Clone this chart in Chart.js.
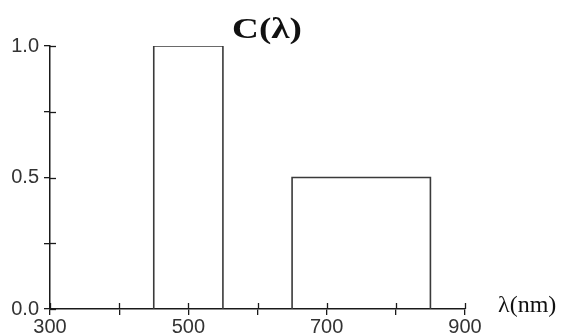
<!DOCTYPE html>
<html>
<head>
<meta charset="utf-8">
<script src="https://cdn.jsdelivr.net/npm/chart.js@4"></script>
<style>
html,body{margin:0;padding:0;background:#fff;}
#wrap{width:564px;height:335px;position:relative;}
</style>
</head>
<body>
<div id="wrap"><canvas id="c" width="564" height="335"></canvas></div>
<script>
// Data
const barStarts = [450, 650];
const barEnds = [550, 850];
const barHeights = [1.0, 0.5];
const xLabeled = [300, 500, 700, 900];
const yLabeled = [0, 0.5, 1.0];
const titleText = 'C(λ)';
const xAxisTitle = 'λ(nm)';

const datasets = barStarts.map((s, i) => ({
  data: [
    {x: s, y: 0},
    {x: s, y: barHeights[i]},
    {x: barEnds[i], y: barHeights[i]},
    {x: barEnds[i], y: 0}
  ],
  borderColor: '#3a3a3a',
  borderWidth: 1.6,
  pointRadius: 0,
  fill: false,
  tension: 0
}));

const AXIS = '#1a1a1a';
const tickFont = {family: 'Liberation Sans, Arial, sans-serif', size: 20};

const decor = {
  id: 'decor',
  afterDraw(chart) {
    const ctx = chart.ctx;
    const xs = chart.scales.x, ys = chart.scales.y;
    ctx.save();
    ctx.strokeStyle = AXIS;
    ctx.lineWidth = 1.3;
    // inner halves of cross ticks
    xs.ticks.forEach(t => {
      const px = Math.round(xs.getPixelForValue(t.value)) + 0.5;
      ctx.beginPath();
      ctx.moveTo(px, xs.top);
      ctx.lineTo(px, xs.top - 6);
      ctx.stroke();
    });
    ys.ticks.forEach(t => {
      const py = Math.round(ys.getPixelForValue(t.value)) + 0.5;
      ctx.beginPath();
      ctx.moveTo(ys.right, py);
      ctx.lineTo(ys.right + 6, py);
      ctx.stroke();
    });
    ctx.fillStyle = '#111';
    ctx.font = 'bold 29px "Liberation Serif", "Times New Roman", serif';
    ctx.textAlign = 'center';
    ctx.textBaseline = 'alphabetic';
    ctx.save();
    ctx.translate(267, 38);
    ctx.scale(1.28, 1);
    ctx.fillText(titleText, 0, 0);
    ctx.restore();
    ctx.font = '24px "Liberation Serif", "Times New Roman", serif';
    ctx.textAlign = 'left';
    ctx.fillText(xAxisTitle, 498, 312);
    ctx.restore();
  }
};

new Chart(document.getElementById('c'), {
  type: 'line',
  data: {datasets},
  options: {
    responsive: false,
    animation: false,
    layout: {padding: {top: 46, right: 99, bottom: 0, left: 0}},
    plugins: {legend: {display: false}, tooltip: {enabled: false}, title: {display: false}},
    scales: {
      x: {
        type: 'linear',
        min: 300, max: 900,
        afterFit(s) { s.height = 26; },
        border: {color: AXIS, width: 1.5},
        grid: {drawOnChartArea: false, tickLength: 6, color: AXIS, lineWidth: 1.3},
        ticks: {
          stepSize: 100,
          autoSkip: false,
          maxRotation: 0,
          padding: 0,
          color: '#333',
          font: tickFont,
          callback: v => xLabeled.includes(v) ? String(v) : ''
        }
      },
      y: {
        type: 'linear',
        min: 0, max: 1,
        afterFit(s) { s.width = 50; },
        border: {color: AXIS, width: 1.5},
        grid: {drawOnChartArea: false, tickLength: 6, color: AXIS, lineWidth: 1.3},
        ticks: {
          stepSize: 0.25,
          autoSkip: false,
          padding: 5,
          color: '#333',
          font: tickFont,
          callback: v => yLabeled.some(l => Math.abs(l - v) < 1e-9) ? v.toFixed(1) : ''
        }
      }
    }
  },
  plugins: [decor]
});
</script>
</body>
</html>
